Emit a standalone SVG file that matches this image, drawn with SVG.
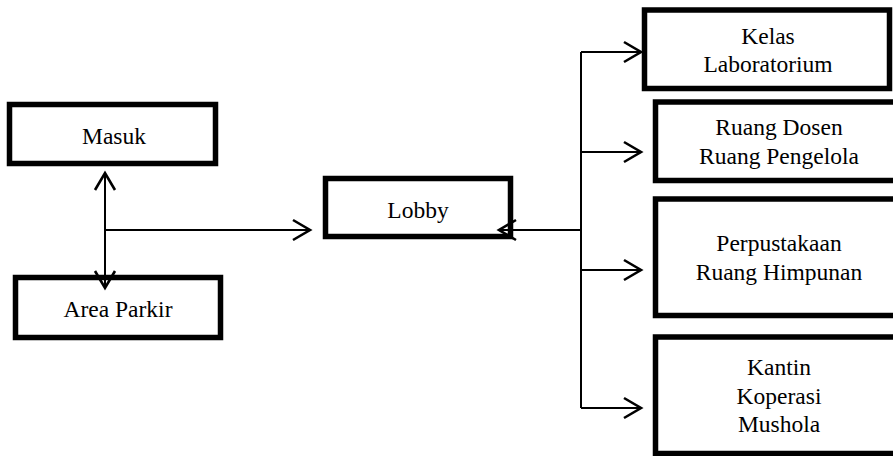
<svg xmlns="http://www.w3.org/2000/svg" width="893" height="456" viewBox="0 0 893 456">
<style>
.box{fill:#fff;stroke:#000;stroke-width:5.5}
.lbl{font-family:"Liberation Serif","Times New Roman",serif;font-size:23.5px;fill:#000;text-anchor:middle}
.con{fill:none;stroke:#000;stroke-width:2}
</style>
<defs>
<marker id="arr" markerUnits="userSpaceOnUse" markerWidth="24" markerHeight="24" viewBox="-20 -12 24 24" refX="0" refY="0" orient="auto-start-reverse" overflow="visible">
<path d="M-17,-10 L0,0 L-17,10" fill="none" stroke="#000" stroke-width="2.6"/>
</marker>
</defs>
<rect width="893" height="456" fill="#fff"/>
<g id="masuk"><rect class="box" x="9.5" y="104.5" width="206" height="59"/><text class="lbl" x="114" y="144">Masuk</text></g>
<g id="area-parkir"><rect class="box" x="15.5" y="277.5" width="205" height="60"/><text class="lbl" x="118" y="317">Area Parkir</text></g>
<g id="lobby"><rect class="box" x="325.5" y="178.5" width="185" height="58"/><text class="lbl" x="418" y="218">Lobby</text></g>
<g id="kelas"><rect class="box" x="644.5" y="10" width="245" height="78.5"/><text class="lbl" x="768" y="44">Kelas</text><text class="lbl" x="768" y="71.5">Laboratorium</text></g>
<g id="ruang-dosen"><rect class="box" x="655.5" y="102" width="250" height="78.5"/><text class="lbl" x="779" y="135">Ruang Dosen</text><text class="lbl" x="779" y="163.5">Ruang Pengelola</text></g>
<g id="perpustakaan"><rect class="box" x="655.5" y="199" width="250" height="116.5"/><text class="lbl" x="779" y="251">Perpustakaan</text><text class="lbl" x="779" y="280">Ruang Himpunan</text></g>
<g id="kantin"><rect class="box" x="655.5" y="337" width="250" height="116.5"/><text class="lbl" x="779" y="375">Kantin</text><text class="lbl" x="779" y="403.5">Koperasi</text><text class="lbl" x="779" y="432">Mushola</text></g>
<g id="connectors">
<path class="con" d="M105,173 L105,288" marker-start="url(#arr)" marker-end="url(#arr)"/>
<path class="con" d="M105,230 L310,230" marker-end="url(#arr)"/>
<path class="con" d="M581,230 L499,230" marker-end="url(#arr)"/>
<path class="con" d="M581,52 L581,408"/>
<path class="con" d="M581,52 L641,52" marker-end="url(#arr)"/>
<path class="con" d="M581,152 L641,152" marker-end="url(#arr)"/>
<path class="con" d="M581,270 L641,270" marker-end="url(#arr)"/>
<path class="con" d="M581,408 L641,408" marker-end="url(#arr)"/>
</g>
</svg>
